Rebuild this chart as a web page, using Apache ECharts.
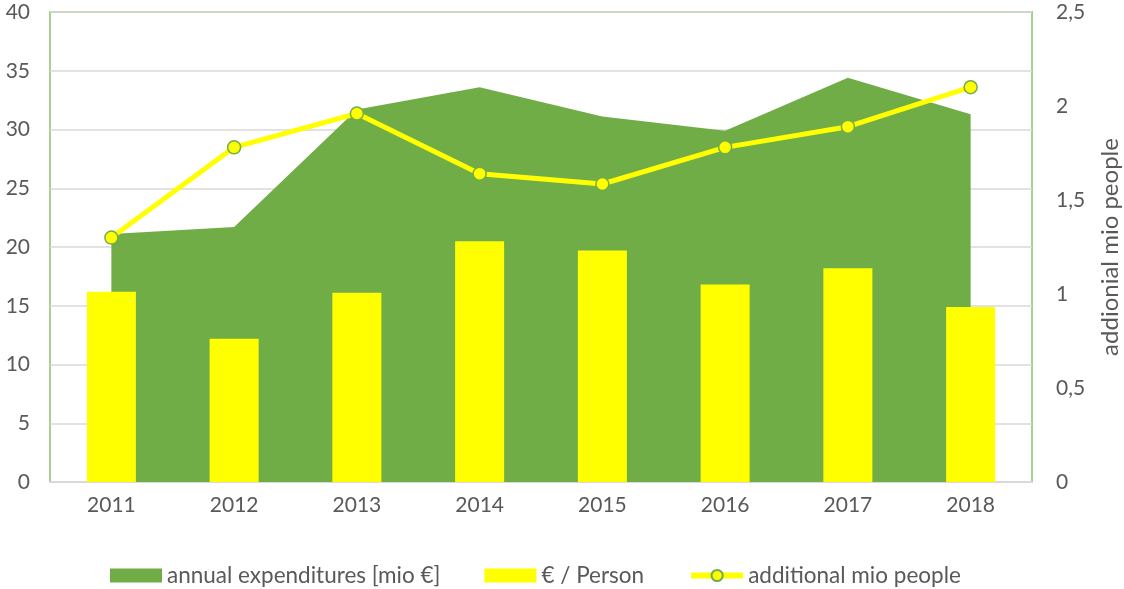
<!DOCTYPE html>
<html>
<head>
<meta charset="utf-8">
<script src="https://cdn.jsdelivr.net/npm/echarts@6/dist/echarts.min.js"></script>
<style>html,body{margin:0;padding:0;background:#fff;}#c{width:1124px;height:589px;}</style>
</head>
<body>
<div id="c"></div>
<script>
const categories = ['2011','2012','2013','2014','2015','2016','2017','2018'];
const annualExpenditures = [21.1, 21.7, 31.7, 33.6, 31.1, 29.9, 34.4, 31.3];
const eurPerPerson = [16.2, 12.2, 16.1, 20.5, 19.7, 16.8, 18.2, 14.9];
const additionalMioPeople = [1.30, 1.78, 1.96, 1.64, 1.585, 1.78, 1.89, 2.10];

const txt = '#595959';
const font = 'Lato';
const fs = 21;
const chart = echarts.init(document.getElementById('c'));
chart.setOption({
  animation: false,
  textStyle: {fontFamily: font},
  grid: {left: 50, right: 92, top: 12, bottom: 107, outerBoundsMode: 'none', containLabel: false,
         show: true, borderColor: '#a9d18e', borderWidth: 2, backgroundColor: 'transparent'},
  legend: {
    top: 559, left: 105, itemWidth: 52, itemHeight: 14, itemGap: 44,
    textStyle: {color: txt, fontSize: 22.5, fontFamily: font},
    data: [
      {name: 'annual expenditures [mio €]', icon: 'rect'},
      {name: '€ / Person', icon: 'rect'},
      {name: 'additional mio people', lineStyle: {width: 6}}
    ]
  },
  xAxis: {
    type: 'category', data: categories, boundaryGap: true,
    axisLine: {show: true, lineStyle: {color: '#d9d9d9', width: 2}},
    axisTick: {show: false},
    axisLabel: {color: txt, fontSize: fs, margin: 13, fontFamily: font}
  },
  yAxis: [
    {type: 'value', min: 0, max: 40, interval: 5,
     axisLine: {show: false}, axisTick: {show: false},
     axisLabel: {color: txt, fontSize: fs, margin: 20, fontFamily: font},
     splitLine: {lineStyle: {color: '#d9d9d9', width: 1.5}}},
    {type: 'value', min: 0, max: 2.5, interval: 0.5, position: 'right',
     axisLine: {show: false}, axisTick: {show: false},
     axisLabel: {color: txt, fontSize: fs, margin: 24, fontFamily: font,
       formatter: v => String(v).replace('.', ',')},
     splitLine: {show: false},
     name: 'addionial mio people', nameLocation: 'middle', nameRotate: 90, nameGap: 66,
     nameTextStyle: {color: txt, fontSize: 24, fontFamily: font}}
  ],
  series: [
    {name: 'annual expenditures [mio €]', type: 'line', yAxisIndex: 0, data: annualExpenditures,
     showSymbol: false, symbol: 'none', lineStyle: {width: 0, color: '#70ad47'},
     itemStyle: {color: '#70ad47'}, areaStyle: {color: '#70ad47', opacity: 1}, z: 1},
    {name: '€ / Person', type: 'bar', yAxisIndex: 0, data: eurPerPerson,
     barWidth: 49, itemStyle: {color: '#ffff00'}, z: 2},
    {name: 'additional mio people', type: 'line', yAxisIndex: 1, data: additionalMioPeople,
     symbol: 'circle', symbolSize: 13, showSymbol: true,
     lineStyle: {color: '#ffff00', width: 5},
     itemStyle: {color: '#ffff00', borderColor: '#70ad47', borderWidth: 1.5}, z: 3}
  ]
});
</script>
</body>
</html>
